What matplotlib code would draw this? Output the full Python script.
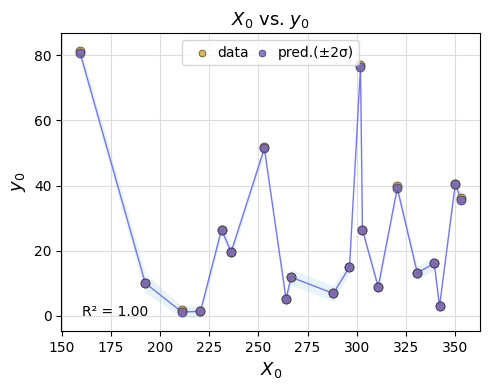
import numpy as np
import matplotlib.pyplot as plt

# valeurs
x0 = [159.3, 192.4, 211.0, 220.5, 231.2, 236.1, 253.0, 264.0, 266.6, 288.1,
      296.3, 301.9, 302.9, 310.9, 320.6, 330.8, 339.4, 342.1, 350.1, 353.1]
y_data = [81.3, 10.2, 1.9, 1.4, 26.5, 19.7, 51.7, 5.3, 12.0, 7.0,
          15.1, 77.0, 26.5, 9.0, 39.8, 13.3, 16.2, 3.1, 40.5, 36.3]
y_pred = [80.6, 10.1, 1.2, 1.4, 26.5, 19.6, 51.4, 5.2, 11.9, 6.9,
          15.0, 76.4, 26.4, 8.9, 39.2, 13.2, 16.1, 3.0, 40.4, 35.7]
sigma = [1.0, 1.5, 0.85, 0.9, 0.8, 0.8, 0.8, 0.8, 1.2, 1.2,
         0.8, 0.6, 0.6, 0.8, 0.8, 1.0, 1.0, 0.8, 0.6, 0.6]
r2 = 1.00

x0 = np.array(x0)
y_pred = np.array(y_pred)
sigma = np.array(sigma)

fig, ax = plt.subplots(figsize=(4.89, 3.9), dpi=100)

ax.fill_between(x0, y_pred - 2 * sigma, y_pred + 2 * sigma,
                color='lightblue', alpha=0.3, linewidth=0)
ax.plot(x0, y_pred, color='#6a6ae6', linewidth=1, alpha=0.9)
ax.scatter(x0, y_data, color='goldenrod', alpha=0.8, edgecolor='#333333',
           linewidth=0.6, s=42, label='data', zorder=3)
ax.scatter(x0, y_pred, color='slateblue', alpha=0.8, edgecolor='#333333',
           linewidth=0.6, s=42, label='pred.(±2σ)', zorder=4)

ax.text(0.05, 0.05, f'R² = {r2:.2f}', transform=ax.transAxes, fontsize=10)
ax.set_title('$X_0$ vs. $y_0$', fontsize=13)
ax.set_xlabel('$X_0$', fontsize=13)
ax.set_ylabel('$y_0$', fontsize=13)
ax.grid(True, color='#dddddd', linewidth=0.8)
ax.set_axisbelow(True)
ax.legend(loc='upper center', ncol=2, handletextpad=0.1, columnspacing=0.0,
          borderpad=0.4, markerscale=0.75, fontsize=10)

plt.subplots_adjust(left=0.125, right=0.982, top=0.915, bottom=0.151)
plt.savefig('out.png')
